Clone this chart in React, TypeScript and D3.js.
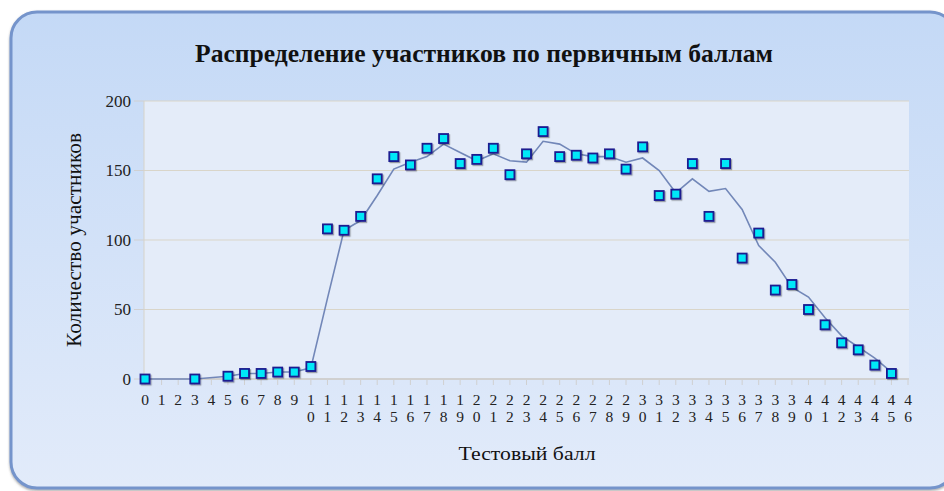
import React from "react";
import * as d3 from "d3";

const title = "Распределение участников по первичным баллам";
const yTitle = "Количество участников";
const xTitle = "Тестовый балл";

const xTicks = d3.range(0, 47);
const yTicks = [0, 50, 100, 150, 200];

const pointScores = [0, 3, 5, 6, 7, 8, 9, 10, 11, 12, 13, 14, 15, 16, 17, 18, 19, 20, 21, 22, 23, 24, 25, 26, 27, 28, 29, 30, 31, 32, 33, 34, 35, 36, 37, 38, 39, 40, 41, 42, 43, 44, 45];
const pointCounts = [0, 0, 2, 4, 4, 5, 5, 9, 108, 107, 117, 144, 160, 154, 166, 173, 155, 158, 166, 147, 162, 178, 160, 161, 159, 162, 151, 167, 132, 133, 155, 117, 155, 87, 105, 64, 68, 50, 39, 26, 21, 10, 4];

const trendScores = [0, 3, 5, 6, 7, 8, 9, 10, 11, 12, 13, 14, 15, 16, 17, 18, 19, 20, 21, 22, 23, 24, 25, 26, 27, 28, 29, 30, 31, 32, 33, 34, 35, 36, 37, 38, 39, 40, 41, 42, 43, 44, 45];
const trendCounts = [0, 0, 2, 4, 4, 5, 5, 8, 58, 107, 114, 132, 151, 156, 160, 169, 163, 157, 162, 157, 156, 171, 169, 162, 160, 160, 156, 159, 150, 134, 144, 135, 137, 122, 96, 84, 66, 59, 44, 31, 23, 15, 5];

export default function App() {
  const W = 944, H = 491;
  const left = 144, right = 909, top = 101, bottom = 379;
  const x = d3.scaleLinear().domain([0, 46]).range([left + 1, right - 1]);
  const y = d3.scaleLinear().domain([0, 200]).range([bottom, top]);
  const line = d3.line<number>().x((d, i) => x(trendScores[i])).y((d) => y(d));
  const font = "'Liberation Serif', 'Times New Roman', serif";
  const ms = 9;
  return (
    <svg width={W} height={H} style={{ position: "absolute", left: 0, top: 0 }} fontFamily={font}>
      <defs>
        <linearGradient id="card" x1="0" y1="0" x2="0" y2="1">
          <stop offset="0" stopColor="#c4d9f6" />
          <stop offset="1" stopColor="#e2ebfa" />
        </linearGradient>
        <filter id="sh" x="-50%" y="-50%" width="200%" height="200%">
          <feDropShadow dx="1.2" dy="1.2" stdDeviation="0.6" floodColor="#000" floodOpacity="0.35" />
        </filter>
        <filter id="cardsh" x="-5%" y="-5%" width="110%" height="110%">
          <feDropShadow dx="0" dy="1.5" stdDeviation="1" floodColor="#555" floodOpacity="0.5" />
        </filter>
      </defs>
      <rect x={0} y={0} width={W} height={H} fill="#ffffff" />
      <rect x={11} y={12} width={945} height={476} rx={26} ry={26} fill="url(#card)" stroke="#7494cb" strokeWidth={3} filter="url(#cardsh)" />
      <rect x={left} y={top} width={right - left} height={bottom - top} fill="#e4ecf9" />
      <text x={484} y={62} textAnchor="middle" fontSize={25} fontWeight="bold" fill="#111"
        textLength={578} lengthAdjust="spacingAndGlyphs">{title}</text>
      {yTicks.map((t) => (
        <g key={t}>
          {t > 0 && <line x1={left} x2={right} y1={y(t)} y2={y(t)} stroke="#d9d5c9" strokeWidth={1} />}
          <line x1={134} x2={left} y1={y(t)} y2={y(t)} stroke="#d0d0d0" strokeWidth={1} />
          <text x={131} y={y(t) + 5.5} textAnchor="end" fontSize={17} fill="#222">{t}</text>
        </g>
      ))}
      <line x1={left} x2={left} y1={top} y2={bottom} stroke="#d6d3ca" strokeWidth={1} />
      <line x1={left} x2={right} y1={bottom} y2={bottom} stroke="#d0d0d0" strokeWidth={2} />
      {xTicks.map((t) => {
        const s = String(t);
        return (
          <g key={t}>
            <line x1={x(t)} x2={x(t)} y1={bottom} y2={bottom + 6} stroke="#d0d0d0" strokeWidth={1} />
            {s.split("").map((ch, i) => (
              <text key={i} x={x(t)} y={405 + i * 17} textAnchor="middle" fontSize={15.5} fill="#222">{ch}</text>
            ))}
          </g>
        );
      })}
      <path d={line(trendCounts) || ""} fill="none" stroke="#7287b8" strokeWidth={1.6} />
      {pointCounts.map((c, i) => (
        <rect key={i} x={x(pointScores[i]) - ms / 2} y={y(c) - ms / 2} width={ms} height={ms}
          fill="#00e8f8" stroke="#1a1a90" strokeWidth={1.8} filter="url(#sh)" />
      ))}
      <text transform={`translate(81,240) rotate(-90)`} textAnchor="middle" fontSize={20} fill="#111"
        textLength={214} lengthAdjust="spacingAndGlyphs">{yTitle}</text>
      <text x={527} y={460} textAnchor="middle" fontSize={19.5} fill="#111"
        textLength={137} lengthAdjust="spacingAndGlyphs">{xTitle}</text>
    </svg>
  );
}
